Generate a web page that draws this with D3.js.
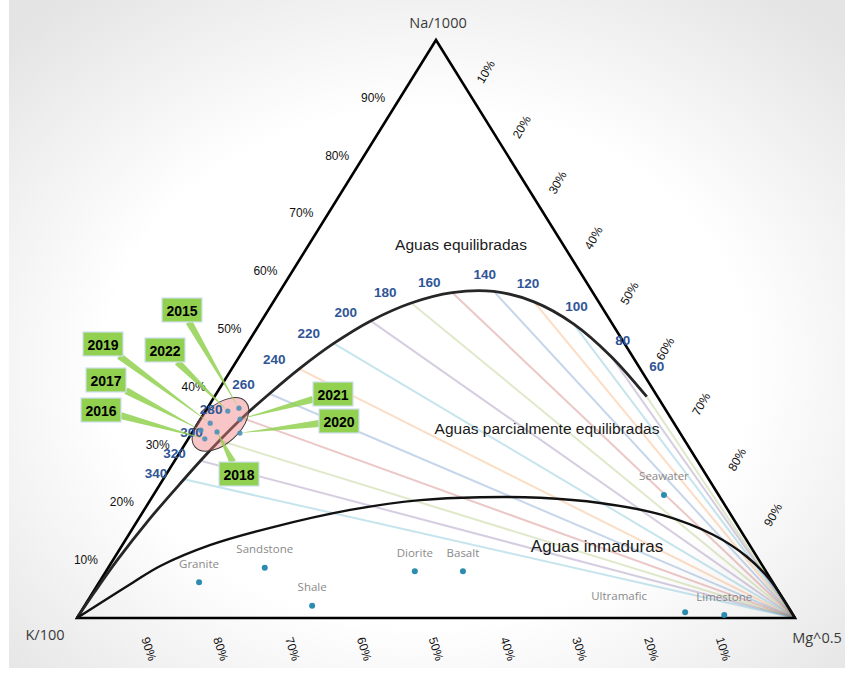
<!DOCTYPE html>
<html>
<head>
<meta charset="utf-8">
<script src="https://cdn.jsdelivr.net/npm/d3@7"></script>
<style>
  body { margin: 0; background: #fff; }
  svg { display: block; }
</style>
</head>
<body>
<script>
let width = 845, height = 674

// ---- data ----
const tickPct = [10, 20, 30, 40, 50, 60, 70, 80, 90]
const vertexNames = ['Na/1000', 'K/100', 'Mg^0.5']

// full equilibrium line, ternary fractions (Na, K), Mg = rest
const temps = [60, 80, 100, 120, 140, 160, 180, 200, 220, 240, 260, 280, 300, 320, 340]
const eqNa = [0.383, 0.453, 0.509, 0.547, 0.565, 0.563, 0.545, 0.514, 0.475, 0.431, 0.388, 0.346, 0.307, 0.272, 0.240]
const eqK  = [0.015, 0.030, 0.054, 0.090, 0.137, 0.196, 0.262, 0.334, 0.405, 0.475, 0.538, 0.597, 0.648, 0.692, 0.731]
const tailNa = [0.169, 0.100, 0.045, 0]
const tailK  = [0.816, 0.894, 0.953, 1]

// immature waters boundary
const immNa = [0, 0.061, 0.090, 0.126, 0.156, 0.187, 0.204, 0.209, 0.208, 0.199, 0.178, 0.144, 0.106, 0.066, 0]
const immK  = [1, 0.892, 0.839, 0.752, 0.653, 0.526, 0.420, 0.334, 0.251, 0.172, 0.095, 0.042, 0.014, 0.002, 0]

// samples
const years    = ['2015', '2016', '2017', '2018', '2019', '2020', '2021', '2022']
const sampleNa = [0.363, 0.310, 0.325, 0.322, 0.337, 0.320, 0.344, 0.358]
const sampleK  = [0.593, 0.667, 0.665, 0.644, 0.646, 0.613, 0.601, 0.611]

// reference rocks
const rocks  = ['Granite', 'Sandstone', 'Shale', 'Diorite', 'Basalt', 'Seawater', 'Ultramafic', 'Limestone']
const rockNa = [0.062, 0.087, 0.021, 0.081, 0.081, 0.213, 0.010, 0.005]
const rockK  = [0.799, 0.695, 0.662, 0.489, 0.422, 0.076, 0.148, 0.096]

const zoneNames = ['Aguas equilibradas', 'Aguas parcialmente equilibradas', 'Aguas inmaduras']

// ---- layout ----
const triLeft = 77, triRight = 795, triTop = 40, triBase = 618
const x = d3.scaleLinear().domain([0, 1]).range([triLeft, triRight])
const y = d3.scaleLinear().domain([0, 1]).range([triBase, triTop])
const proj = (na, k) => [x((1 - na - k) + na / 2), y(na)]

const isoColors = ['#9bbb59', '#8064a2', '#4bacc6', '#f79646', '#4f81bd', '#c0504d']
const tempLabelOffset = {60: [10, -30], 80: [12, -16], 100: [3, -17], 120: [-6, -18], 140: [-9, -17],
  160: [-23, -10], 180: [-26, -10], 200: [-25, -8], 220: [-25, -10], 240: [-25, -9], 260: [-26, -9],
  280: [-31, -9], 300: [-28, -8], 320: [-26, -7], 340: [-28, -6]}
const boxCenter = {'2015': [182, 310], '2016': [101, 410], '2017': [106, 380], '2018': [239, 474],
  '2019': [103, 344], '2020': [339, 421], '2021': [333, 394], '2022': [165, 350]}
const rockLabelOffset = {Ultramafic: [-66, -17]}
const zonePos = [[461, 244], [547, 428], [597, 546]]
const zoneSize = [15.5, 15.5, 17]

let svg = d3.select('body').append('svg')
  .attr('width', width)
  .attr('height', height)

let defs = svg.append('defs')
let grad = defs.append('radialGradient').attr('id', 'bg')
  .attr('cx', '50%').attr('cy', '55%').attr('r', '70%')
grad.append('stop').attr('offset', '55%').attr('stop-color', '#ffffff')
grad.append('stop').attr('offset', '100%').attr('stop-color', '#e4e4e4')

svg.append('rect')
  .attr('x', 9).attr('y', 0)
  .attr('width', width - 9).attr('height', 668)
  .style('fill', 'url(#bg)')

// isotherm lines to Mg vertex
let isoGroup = svg.append('g').attr('id', 'isotherms')
temps.forEach((t, i) => {
  let p = proj(eqNa[i], eqK[i]), q = proj(0, 0)
  isoGroup.append('line')
    .attr('x1', p[0]).attr('y1', p[1]).attr('x2', q[0]).attr('y2', q[1])
    .attr('stroke', isoColors[i % isoColors.length])
    .attr('stroke-opacity', 0.32)
    .attr('stroke-width', 2)
})

// triangle
let corners = [proj(1, 0), proj(0, 1), proj(0, 0)]
svg.append('path')
  .attr('d', d3.line()(corners) + 'Z')
  .attr('fill', 'none')
  .attr('stroke', '#000')
  .attr('stroke-width', 2.6)
  .attr('stroke-linejoin', 'miter')

// curves
const curveLine = d3.line().curve(d3.curveCatmullRom.alpha(0.5))
let eqPts = temps.map((t, i) => proj(eqNa[i], eqK[i]))
  .concat(tailNa.map((n, i) => proj(n, tailK[i])))
svg.append('path')
  .attr('d', curveLine(eqPts))
  .attr('fill', 'none')
  .attr('stroke', '#262626')
  .attr('stroke-width', 2.8)

let immPts = immNa.map((n, i) => proj(n, immK[i]))
svg.append('path')
  .attr('d', curveLine(immPts))
  .attr('fill', 'none')
  .attr('stroke', '#111')
  .attr('stroke-width', 2.4)

// ellipse around samples
let sPts = years.map((yr, i) => proj(sampleNa[i], sampleK[i]))
let cx = d3.mean(sPts, d => d[0]) - 2, cy = d3.mean(sPts, d => d[1])
svg.append('ellipse')
  .attr('transform', `translate(${cx},${cy}) rotate(-42)`)
  .attr('rx', 34).attr('ry', 19)
  .attr('fill', '#f08080').attr('fill-opacity', 0.45)
  .attr('stroke', '#3a3a3a').attr('stroke-width', 1)

// axis percent labels
let axisFont = 'Liberation Sans, Arial, sans-serif'
let lab = svg.append('g').attr('font-family', axisFont).attr('font-size', 12).attr('fill', '#111')
tickPct.forEach(v => {
  let f = v / 100
  // Na side (left)
  let p = proj(f, 1 - f)
  lab.append('text').attr('x', p[0] - 27).attr('y', p[1])
    .attr('text-anchor', 'middle').attr('dominant-baseline', 'central').text(v + '%')
  // Mg side (right)
  let q = proj(1 - f, 0)
  lab.append('text')
    .attr('transform', `translate(${q[0] + 14},${q[1] - 26 - 24 * (f - 0.1)}) rotate(-60)`)
    .attr('text-anchor', 'middle').attr('dominant-baseline', 'central').text(v + '%')
  // K side (bottom)
  let r = proj(0, f)
  lab.append('text')
    .attr('transform', `translate(${r[0]},${r[1] + 31}) rotate(72)`)
    .attr('text-anchor', 'middle').attr('dominant-baseline', 'central').text(v + '%')
})

// vertex names
let vpos = [[proj(1, 0)[0] + 2, 22], [45, 634], [817, 637]]
svg.append('g').attr('font-family', 'Open Sans, Noto Sans, sans-serif').attr('font-size', 14.5).attr('fill', '#3a3a3a')
  .selectAll('text').data(vertexNames).join('text')
  .attr('x', (d, i) => vpos[i][0]).attr('y', (d, i) => vpos[i][1])
  .attr('text-anchor', 'middle').attr('dominant-baseline', 'central')
  .text(d => d)

// zone names
svg.append('g').attr('font-family', 'Liberation Sans, Arial, sans-serif').attr('fill', '#1a1a1a')
  .selectAll('text').data(zoneNames).join('text')
  .attr('x', (d, i) => zonePos[i][0]).attr('y', (d, i) => zonePos[i][1])
  .attr('font-size', (d, i) => zoneSize[i])
  .attr('text-anchor', 'middle').attr('dominant-baseline', 'central')
  .text(d => d)

// temperature labels
svg.append('g').attr('font-family', axisFont).attr('font-size', 13.5).attr('font-weight', 'bold').attr('fill', '#2f5597')
  .selectAll('text').data(temps).join('text')
  .attr('x', (t, i) => eqPts[i][0] + tempLabelOffset[t][0])
  .attr('y', (t, i) => eqPts[i][1] + tempLabelOffset[t][1])
  .attr('text-anchor', 'middle').attr('dominant-baseline', 'central')
  .text(t => t)

// reference rocks
let rockG = svg.append('g')
rocks.forEach((name, i) => {
  let p = proj(rockNa[i], rockK[i])
  let off = rockLabelOffset[name] || [0, -19]
  rockG.append('circle').attr('cx', p[0]).attr('cy', p[1]).attr('r', 3).attr('fill', '#2b8cb0')
  rockG.append('text').attr('x', p[0] + off[0]).attr('y', p[1] + off[1])
    .attr('text-anchor', 'middle').attr('dominant-baseline', 'central')
    .attr('font-family', 'Open Sans, Noto Sans, sans-serif').attr('font-size', 11.5)
    .attr('fill', '#8a8a8a').text(name)
})

// callouts
const boxW = 40, boxH = 24
let callG = svg.append('g')
years.forEach((yr, i) => {
  let [bx, by] = boxCenter[yr]
  let [px, py] = sPts[i]
  let dx = px - bx, dy = py - by
  let s = Math.min(Math.abs((boxW / 2) / dx), Math.abs((boxH / 2) / dy))
  let ax = bx + dx * s, ay = by + dy * s
  let len = Math.hypot(dx, dy), nx = -dy / len * 3.5, ny = dx / len * 3.5
  callG.append('path')
    .attr('d', `M${ax + nx},${ay + ny}L${px},${py}L${ax - nx},${ay - ny}Z`)
    .attr('fill', '#92d050').attr('fill-opacity', 0.85)
})
years.forEach((yr, i) => {
  let [bx, by] = boxCenter[yr]
  callG.append('rect')
    .attr('x', bx - boxW / 2).attr('y', by - boxH / 2)
    .attr('width', boxW).attr('height', boxH)
    .attr('fill', '#92d050').attr('stroke', '#cfe0f1').attr('stroke-width', 1.2)
  callG.append('text').attr('x', bx).attr('y', by + 1)
    .attr('text-anchor', 'middle').attr('dominant-baseline', 'central')
    .attr('font-family', axisFont).attr('font-size', 14).attr('font-weight', 'bold')
    .attr('fill', '#000').text(yr)
})

// sample points
svg.append('g').selectAll('circle').data(sPts).join('circle')
  .attr('cx', d => d[0]).attr('cy', d => d[1]).attr('r', 2.6)
  .attr('fill', '#4a90b8').attr('fill-opacity', 0.9)
</script>
</body>
</html>
